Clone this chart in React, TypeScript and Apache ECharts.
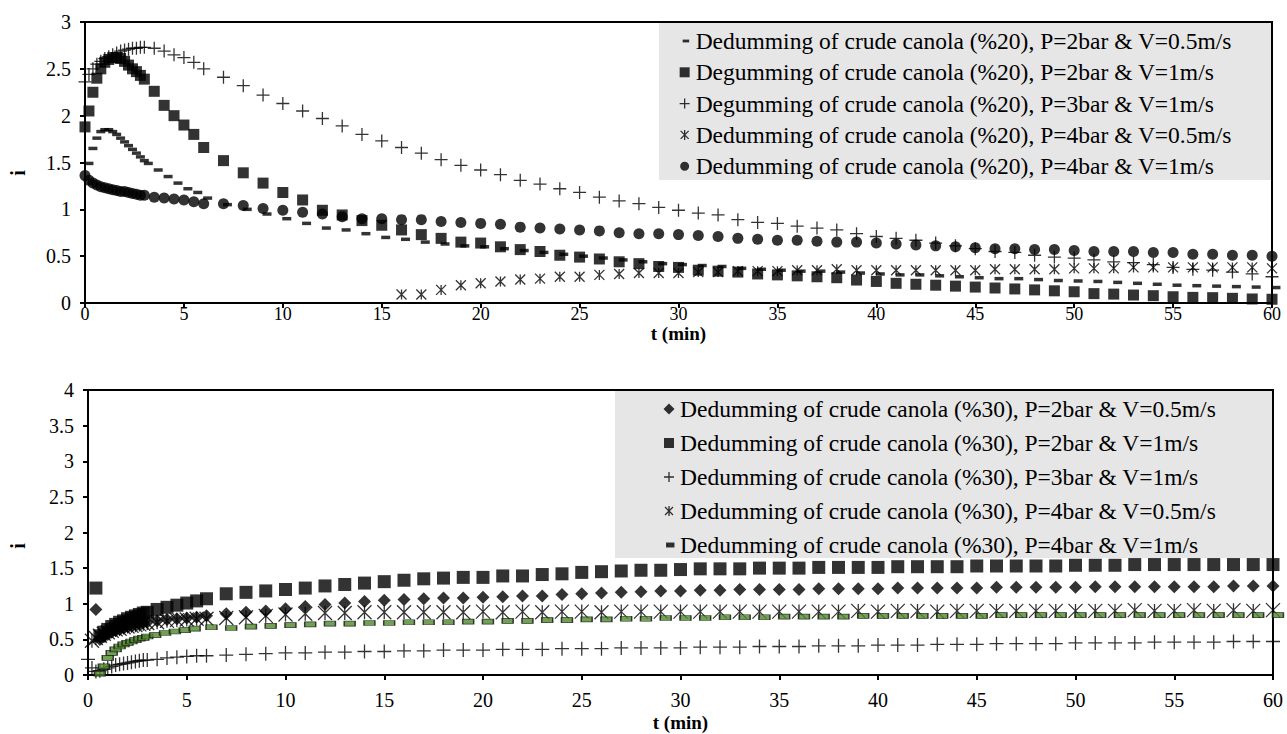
import { useEffect, useRef } from "react";
import * as echarts from "echarts";

// ---------- sampling times (min) ----------
const T_EARLY = [0, 0.2, 0.4, 0.6, 0.8, 1, 1.2, 1.4, 1.6, 1.8, 2, 2.2, 2.4, 2.6, 2.8, 3, 3.5, 4, 4.5, 5, 5.5];
const T_MINUTES = [6, 7, 8, 9, 10, 11, 12, 13, 14, 15, 16, 17, 18, 19, 20, 21, 22, 23, 24, 25, 26, 27, 28, 29, 30, 31, 32, 33, 34, 35, 36, 37, 38, 39, 40, 41, 42, 43, 44, 45, 46, 47, 48, 49, 50, 51, 52, 53, 54, 55, 56, 57, 58, 59, 60];
const T_STAR_20 = [16, 17, 18, 19, 20, 21, 22, 23, 24, 25, 26, 27, 28, 29, 30, 31, 32, 33, 34, 35, 36, 37, 38, 39, 40, 41, 42, 43, 44, 45, 46, 47, 48, 49, 50, 51, 52, 53, 54, 55, 56, 57, 58, 59, 60];
const T_DASH_20 = [0.2, 0.4, 0.6, 0.8, 1, 1.2, 1.4, 1.6, 1.8, 2, 2.2, 2.4, 2.6, 2.8, 3, 3.2, 3.7, 4.2, 4.7, 5.2, 5.7, 6.2, 7.2, 8.2, 9.2, 10.2, 11.2, 12.2, 13.2, 14.2, 15.2, 16.2, 17.2, 18.2, 19.2, 20.2, 21.2, 22.2, 23.2, 24.2, 25.2, 26.2, 27.2, 28.2, 29.2, 30.2, 31.2, 32.2, 33.2, 34.2, 35.2, 36.2, 37.2, 38.2, 39.2, 40.2, 41.2, 42.2, 43.2, 44.2, 45.2, 46.2, 47.2, 48.2, 49.2, 50.2, 51.2, 52.2, 53.2, 54.2, 55.2, 56.2, 57.2, 58.2, 59.2, 60.2];
const T_DASH_30 = [0.6, 0.8, 1, 1.2, 1.4, 1.6, 1.8, 2, 2.2, 2.4, 2.6, 2.8, 3, 3.4, 3.9, 4.4, 4.9, 5.4, 6.25, 7.25, 8.25, 9.25, 10.25, 11.25, 12.25, 13.25, 14.25, 15.25, 16.25, 17.25, 18.25, 19.25, 20.25, 21.25, 22.25, 23.25, 24.25, 25.25, 26.25, 27.25, 28.25, 29.25, 30.25, 31.25, 32.25, 33.25, 34.25, 35.25, 36.25, 37.25, 38.25, 39.25, 40.25, 41.25, 42.25, 43.25, 44.25, 45.25, 46.25, 47.25, 48.25, 49.25, 50.25, 51.25, 52.25, 53.25, 54.25, 55.25, 56.25, 57.25, 58.25, 59.25, 60.25];

// ---------- crude canola 20 % ----------
const I20_P2_V05 = [1.49, 1.65, 1.76, 1.83, 1.85, 1.85, 1.83, 1.8, 1.76, 1.72, 1.68, 1.64, 1.6, 1.56, 1.52, 1.49, 1.42, 1.35, 1.28, 1.22, 1.18,
  1.12, 1.05, 1.0, 0.95, 0.9, 0.85, 0.8, 0.78, 0.74, 0.7, 0.68, 0.65, 0.63, 0.61, 0.6, 0.58, 0.56, 0.54, 0.52, 0.5, 0.48, 0.46, 0.44, 0.42, 0.41,
  0.4, 0.39, 0.37, 0.36, 0.35, 0.34, 0.34, 0.33, 0.32, 0.31, 0.3, 0.3, 0.29, 0.28, 0.27, 0.26, 0.26, 0.25, 0.24, 0.235, 0.23, 0.22, 0.21, 0.2, 0.19,
  0.185, 0.18, 0.175, 0.17, 0.165];
const I20_P2_V1 = [1.88, 2.05, 2.25, 2.4, 2.5, 2.57, 2.6, 2.62, 2.62, 2.61, 2.58, 2.54, 2.5, 2.47, 2.43, 2.39, 2.26, 2.11, 2.0, 1.9, 1.8,
  1.66, 1.52, 1.39, 1.28, 1.18, 1.1, 0.99, 0.94, 0.88, 0.83, 0.78, 0.73, 0.69, 0.65, 0.64, 0.6, 0.57, 0.55, 0.51, 0.49, 0.47, 0.44, 0.42, 0.39, 0.38,
  0.35, 0.34, 0.33, 0.31, 0.3, 0.29, 0.28, 0.27, 0.245, 0.23, 0.21, 0.2, 0.19, 0.18, 0.17, 0.16, 0.15, 0.14, 0.13, 0.12, 0.1, 0.095, 0.085, 0.078, 0.067,
  0.06, 0.057, 0.05, 0.043, 0.04];
const I20_P3_V1 = [2.36, 2.44, 2.5, 2.55, 2.58, 2.61, 2.63, 2.65, 2.67, 2.69, 2.7, 2.71, 2.72, 2.72, 2.73, 2.73, 2.72, 2.69, 2.65, 2.62, 2.57,
  2.5, 2.41, 2.32, 2.22, 2.13, 2.05, 1.97, 1.89, 1.8, 1.73, 1.66, 1.6, 1.53, 1.47, 1.42, 1.37, 1.31, 1.27, 1.22, 1.18, 1.13, 1.09, 1.06, 1.02, 0.99,
  0.96, 0.94, 0.89, 0.86, 0.85, 0.82, 0.8, 0.78, 0.74, 0.71, 0.69, 0.67, 0.64, 0.61, 0.58, 0.55, 0.54, 0.51, 0.49, 0.48, 0.46, 0.44, 0.43, 0.41, 0.38,
  0.36, 0.35, 0.33, 0.31, 0.28];
const I20_P4_V05 = [0.09, 0.09, 0.14, 0.19, 0.21, 0.23, 0.25, 0.26, 0.28, 0.28, 0.3, 0.31, 0.32, 0.32, 0.32, 0.33, 0.33, 0.34, 0.34, 0.34,
  0.35, 0.35, 0.36, 0.35, 0.35, 0.35, 0.35, 0.35, 0.35, 0.35, 0.36, 0.36, 0.36, 0.36, 0.37, 0.37, 0.37, 0.38, 0.38, 0.38, 0.38, 0.38, 0.38, 0.38, 0.37];
const I20_P4_V1 = [1.36, 1.31, 1.28, 1.26, 1.24, 1.23, 1.22, 1.21, 1.2, 1.19, 1.19, 1.18, 1.17, 1.16, 1.15, 1.15, 1.13, 1.12, 1.11, 1.1, 1.08,
  1.06, 1.06, 1.04, 1.01, 0.99, 0.97, 0.95, 0.92, 0.9, 0.9, 0.89, 0.89, 0.87, 0.86, 0.85, 0.84, 0.81, 0.8, 0.79, 0.78, 0.77, 0.75, 0.74, 0.74, 0.73,
  0.72, 0.71, 0.69, 0.68, 0.67, 0.67, 0.66, 0.65, 0.65, 0.64, 0.63, 0.62, 0.61, 0.6, 0.59, 0.58, 0.58, 0.57, 0.57, 0.56, 0.55, 0.55, 0.55, 0.54, 0.54,
  0.52, 0.52, 0.51, 0.51, 0.5];

// ---------- crude canola 30 % ----------
const I30_P2_V05 = [null, null, 0.92, 0.5, 0.54, 0.57, 0.6, 0.62, 0.64, 0.66, 0.68, 0.69, 0.71, 0.72, 0.73, 0.74, 0.76, 0.78, 0.79, 0.8, 0.81,
  0.83, 0.86, 0.88, 0.9, 0.93, 0.96, 0.99, 1.01, 1.03, 1.05, 1.06, 1.07, 1.08, 1.08, 1.09, 1.1, 1.11, 1.11, 1.13, 1.14, 1.15, 1.16, 1.17, 1.18, 1.18,
  1.19, 1.19, 1.2, 1.2, 1.2, 1.2, 1.21, 1.21, 1.21, 1.21, 1.22, 1.22, 1.22, 1.22, 1.22, 1.23, 1.23, 1.23, 1.23, 1.23, 1.24, 1.24, 1.24, 1.24, 1.24,
  1.24, 1.24, 1.25, 1.25, 1.25];
const I30_P2_V1 = [null, null, 1.22, 0.55, 0.6, 0.64, 0.68, 0.71, 0.74, 0.76, 0.79, 0.81, 0.83, 0.85, 0.87, 0.88, 0.92, 0.95, 0.98, 1.01, 1.04,
  1.07, 1.14, 1.16, 1.18, 1.2, 1.22, 1.25, 1.27, 1.29, 1.31, 1.33, 1.35, 1.36, 1.37, 1.37, 1.39, 1.39, 1.41, 1.42, 1.44, 1.45, 1.46, 1.47, 1.47, 1.48,
  1.49, 1.49, 1.49, 1.5, 1.5, 1.5, 1.51, 1.51, 1.51, 1.51, 1.52, 1.52, 1.52, 1.52, 1.53, 1.53, 1.53, 1.53, 1.53, 1.54, 1.54, 1.54, 1.55, 1.55, 1.55,
  1.55, 1.55, 1.55, 1.55, 1.55];
const I30_P3_V1 = [0.22, 0.1, 0.05, 0.06, 0.08, 0.1, 0.12, 0.14, 0.15, 0.16, 0.17, 0.18, 0.19, 0.2, 0.21, 0.21, 0.22, 0.24, 0.25, 0.26, 0.27,
  0.27, 0.28, 0.29, 0.3, 0.31, 0.31, 0.32, 0.32, 0.33, 0.33, 0.34, 0.34, 0.35, 0.35, 0.35, 0.36, 0.36, 0.36, 0.37, 0.37, 0.37, 0.38, 0.38, 0.38, 0.38,
  0.39, 0.39, 0.39, 0.4, 0.4, 0.4, 0.41, 0.41, 0.41, 0.42, 0.42, 0.42, 0.43, 0.43, 0.43, 0.44, 0.44, 0.44, 0.44, 0.45, 0.45, 0.45, 0.45, 0.46, 0.46,
  0.46, 0.46, 0.47, 0.47, 0.47];
const I30_P4_V05 = [null, 0.48, 0.52, 0.55, 0.58, 0.6, 0.62, 0.64, 0.65, 0.67, 0.68, 0.69, 0.7, 0.71, 0.72, 0.73, 0.74, 0.76, 0.77, 0.78, 0.79,
  0.79, 0.8, 0.81, 0.83, 0.85, 0.86, 0.87, 0.87, 0.88, 0.88, 0.88, 0.88, 0.88, 0.88, 0.89, 0.88, 0.89, 0.88, 0.89, 0.89, 0.88, 0.89, 0.89, 0.89, 0.89,
  0.89, 0.89, 0.89, 0.89, 0.89, 0.89, 0.89, 0.89, 0.9, 0.89, 0.9, 0.9, 0.89, 0.9, 0.9, 0.9, 0.9, 0.9, 0.9, 0.9, 0.9, 0.9, 0.91, 0.9, 0.9,
  0.91, 0.9, 0.91, 0.9, 0.91];
const I30_P4_V1 = [0.02, 0.12, 0.24, 0.31, 0.36, 0.4, 0.43, 0.45, 0.47, 0.49, 0.51, 0.52, 0.54, 0.56, 0.59, 0.61, 0.63, 0.65,
  0.67, 0.66, 0.68, 0.69, 0.7, 0.71, 0.72, 0.72, 0.73, 0.73, 0.74, 0.74, 0.74, 0.75, 0.75, 0.76, 0.76, 0.77, 0.77, 0.78, 0.78, 0.79, 0.79, 0.8, 0.8,
  0.8, 0.81, 0.81, 0.81, 0.82, 0.82, 0.82, 0.82, 0.83, 0.83, 0.83, 0.83, 0.83, 0.83, 0.83, 0.84, 0.84, 0.84, 0.84, 0.84, 0.84, 0.84, 0.84, 0.84, 0.84,
  0.84, 0.84, 0.84, 0.84, 0.84];

// ---------- legend names ----------
const NAMES_20 = [
  "Dedumming of crude canola (%20), P=2bar & V=0.5m/s",
  "Degumming of crude canola (%20), P=2bar & V=1m/s",
  "Degumming of crude canola (%20), P=3bar & V=1m/s",
  "Dedumming of crude canola (%20), P=4bar & V=0.5m/s",
  "Dedumming of crude canola (%20), P=4bar & V=1m/s",
];
const NAMES_30 = [
  "Dedumming of crude canola (%30), P=2bar & V=0.5m/s",
  "Dedumming of crude canola (%30), P=2bar & V=1m/s",
  "Dedumming of crude canola (%30), P=3bar & V=1m/s",
  "Dedumming of crude canola (%30), P=4bar & V=0.5m/s",
  "Dedumming of crude canola (%30), P=4bar & V=1m/s",
];

const FONT = "Liberation Serif";
const INK = "#000";
const GREEN = "#4f8a2b";

const PLUS = "path://M0,6H12M6,0V12";
const STAR = "path://M0,0L12,12M12,0L0,12M6,0V12";
// legend icons (the leading moves pin the 12x12 box)
const ICON_DASH = "path://M0,0M12,12M4,4.6H10.5V7.4H4Z";
const ICON_SQUARE = "path://M0,0M12,12M1,1H11V11H1Z";
const ICON_PLUS = "path://M0,0M12,12M1,6H11M6,1V11";
const ICON_STAR = "path://M0,0M12,12M2,2L10,10M10,2L2,10M6,1V11";
const ICON_CIRCLE = "path://M0,0M12,12M6,1.5A4.5,4.5 0 1,1 6,10.5A4.5,4.5 0 1,1 6,1.5Z";
const ICON_DIAMOND = "path://M0,0M12,12M6,0.5L11.5,6L6,11.5L0.5,6Z";

const T_ALL = T_EARLY.concat(T_MINUTES);

function pts(ts: number[], vs: (number | null)[]) {
  const out: number[][] = [];
  for (let i = 0; i < ts.length; i++) {
    const v = vs[i];
    if (v !== null && v !== undefined) out.push([ts[i], v]);
  }
  return out;
}

const solid = { color: INK };
const stroked = { color: "transparent", borderColor: INK, borderWidth: 1.3 };

function xAxis(gridIndex: number, labelSize: number, labelMargin: number, nameGap: number) {
  return {
    type: "value",
    gridIndex,
    min: 0,
    max: 60,
    interval: 5,
    axisLine: { show: true, onZero: false, lineStyle: { color: INK, width: 2 } },
    axisTick: { show: true, inside: false, length: 5, lineStyle: { color: INK, width: 2 } },
    axisLabel: { color: INK, fontFamily: FONT, fontSize: labelSize, margin: labelMargin },
    splitLine: { show: false },
    name: "t (min)",
    nameLocation: "middle",
    nameGap,
    nameMoveOverlap: false,
    nameTextStyle: { color: INK, fontFamily: FONT, fontSize: 19, fontWeight: "bold" },
  };
}

function yAxis(gridIndex: number, max: number) {
  return {
    type: "value",
    gridIndex,
    min: 0,
    max,
    interval: 0.5,
    axisLine: { show: true, onZero: false, lineStyle: { color: INK, width: 2 } },
    axisTick: { show: true, inside: false, length: 5, lineStyle: { color: INK, width: 2 } },
    axisLabel: { color: INK, fontFamily: FONT, fontSize: 20, margin: 14 },
    splitLine: { show: false },
  };
}

function legend(names: string[], icons: string[], styles: any[], left: number, top: number, gap: number) {
  return {
    orient: "vertical",
    left,
    top,
    padding: 0,
    itemGap: gap,
    itemWidth: 12,
    itemHeight: 12,
    selectedMode: false,
    z: 6,
    textStyle: { color: INK, fontFamily: FONT, fontSize: 23.5, lineHeight: 23 },
    data: names.map((name, i) => ({ name, icon: icons[i], itemStyle: styles[i] })),
  };
}

export default function App() {
  const ref = useRef<HTMLDivElement>(null);

  useEffect(() => {
    if (!ref.current) return;
    const chart = echarts.init(ref.current, undefined, { renderer: "svg" });

    const series: any[] = [
      // 20 % panel
      { name: NAMES_20[0], type: "scatter", xAxisIndex: 0, yAxisIndex: 0, symbol: "rect", symbolSize: [9, 3.5], itemStyle: solid, data: pts(T_DASH_20, I20_P2_V05) },
      { name: NAMES_20[1], type: "scatter", xAxisIndex: 0, yAxisIndex: 0, symbol: "rect", symbolSize: 11, itemStyle: solid, data: pts(T_ALL, I20_P2_V1) },
      { name: NAMES_20[2], type: "scatter", xAxisIndex: 0, yAxisIndex: 0, symbol: PLUS, symbolSize: 13, itemStyle: stroked, data: pts(T_ALL, I20_P3_V1) },
      { name: NAMES_20[3], type: "scatter", xAxisIndex: 0, yAxisIndex: 0, symbol: STAR, symbolSize: 10, itemStyle: stroked, data: pts(T_STAR_20, I20_P4_V05) },
      { name: NAMES_20[4], type: "scatter", xAxisIndex: 0, yAxisIndex: 0, symbol: "circle", symbolSize: 11, itemStyle: solid, data: pts(T_ALL, I20_P4_V1) },
      // 30 % panel
      { name: NAMES_30[0], type: "scatter", xAxisIndex: 1, yAxisIndex: 1, symbol: "diamond", symbolSize: 13, itemStyle: solid, data: pts(T_ALL, I30_P2_V05) },
      { name: NAMES_30[1], type: "scatter", xAxisIndex: 1, yAxisIndex: 1, symbol: "rect", symbolSize: 13, itemStyle: solid, data: pts(T_ALL, I30_P2_V1) },
      { name: NAMES_30[2], type: "scatter", xAxisIndex: 1, yAxisIndex: 1, symbol: PLUS, symbolSize: 14, itemStyle: stroked, data: pts(T_ALL, I30_P3_V1) },
      { name: NAMES_30[3], type: "scatter", xAxisIndex: 1, yAxisIndex: 1, symbol: STAR, symbolSize: 14, itemStyle: stroked, data: pts(T_ALL, I30_P4_V05) },
      { name: NAMES_30[4], type: "scatter", xAxisIndex: 1, yAxisIndex: 1, symbol: "rect", symbolSize: [11, 5], itemStyle: { color: GREEN, borderColor: "#111", borderWidth: 1 }, data: pts(T_DASH_30, I30_P4_V1) },
    ];
    series.forEach((s) => {
      s.clip = false;
      s.emphasis = { disabled: true };
    });

    const option: any = {
      animation: false,
      backgroundColor: "#fff",
      grid: [
        { left: 85, top: 22, right: 15, height: 281, show: true, borderColor: INK, borderWidth: 2, backgroundColor: "transparent" },
        { left: 88, top: 390, right: 14, height: 285, show: true, borderColor: INK, borderWidth: 2, backgroundColor: "transparent" },
      ],
      xAxis: [xAxis(0, 18, 2, 21), xAxis(1, 20, 15, 38)],
      yAxis: [yAxis(0, 3), yAxis(1, 4)],
      legend: [
        legend(NAMES_20, [ICON_DASH, ICON_SQUARE, ICON_PLUS, ICON_STAR, ICON_CIRCLE],
          [solid, solid, stroked, stroked, solid], 678, 29, 7.3),
        legend(NAMES_30, [ICON_DIAMOND, ICON_SQUARE, ICON_PLUS, ICON_STAR, ICON_DASH],
          [solid, solid, stroked, stroked, { color: "#222" }], 662, 397, 10),
      ],
      graphic: [
        { type: "rect", z: 3, silent: true, shape: { x: 659, y: 23, width: 612, height: 157 }, style: { fill: "#e6e6e6" } },
        { type: "rect", z: 3, silent: true, shape: { x: 615, y: 391, width: 657, height: 167 }, style: { fill: "#e6e6e6" } },
        { type: "text", z: 5, x: 18, y: 173, rotation: Math.PI / 2, style: { text: "i", font: `bold 20px ${FONT}`, fill: INK, align: "center", verticalAlign: "middle", textAlign: "center", textVerticalAlign: "middle" } },
        { type: "text", z: 5, x: 18, y: 546, rotation: Math.PI / 2, style: { text: "i", font: `bold 20px ${FONT}`, fill: INK, align: "center", verticalAlign: "middle", textAlign: "center", textVerticalAlign: "middle" } },
      ],
      series,
    };

    chart.setOption(option);
    return () => chart.dispose();
  }, []);

  return (
    <div style={{ position: "absolute", left: 0, top: 0, width: 1287, height: 734, background: "#fff" }}>
      <div ref={ref} style={{ width: 1287, height: 734 }} />
    </div>
  );
}
